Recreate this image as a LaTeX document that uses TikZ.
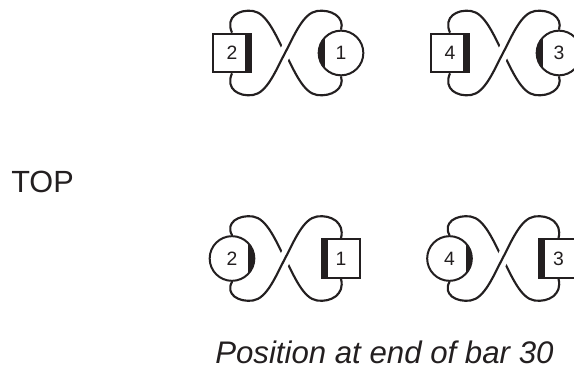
\documentclass[tikz,border=0pt]{standalone}
\usepackage{fontspec}
\setmainfont{Liberation Sans}
\pgfdeclarelayer{background}
\pgfsetlayers{background,main}
\definecolor{ink}{RGB}{35,31,32}

\begin{document}
\begin{tikzpicture}[x=0.75pt,y=0.75pt,yscale=-1,xscale=1,
  knot/.style={draw=ink,line width=1.6pt},
  over/.style={knot,preaction={draw=white,line width=9pt}},
  box/.style={draw=ink,fill=white,line width=1.5pt,minimum size=29pt,inner sep=0pt,text=ink,font=\fontsize{14.5}{16}\selectfont},
  ring/.style={box,circle,minimum size=33.5pt},
  bandR/.style={path picture={\fill[ink] ([xshift=-4.5pt]path picture bounding box.north east) rectangle (path picture bounding box.south east);}},
  bandL/.style={path picture={\fill[ink] (path picture bounding box.north west) rectangle ([xshift=4.5pt]path picture bounding box.south west);}}]
\useasboundingbox (0,0) rectangle (574,370);

%Top left
\begin{scope}[shift={(285,53)}]
\node [box,bandR] (s2) at (-53,0) {2};
\node [ring,bandL] (c1) at (56,0) {1};
\coordinate (x1) at (0,0);
\begin{pgfonlayer}{background}
\draw [knot] (s2.north) .. controls (-60,-36) and (-46,-44) .. (-32,-42) .. controls (-18,-40) and (-9,-17) .. (x1) .. controls (9,17) and (18,40) .. (32,42) .. controls (46,44) and (60,36) .. (c1.south);
\draw [over] (s2.south) .. controls (-60,36) and (-46,44) .. (-32,42) .. controls (-18,40) and (-9,17) .. (x1) .. controls (9,-17) and (18,-40) .. (32,-42) .. controls (46,-44) and (60,-36) .. (c1.north);
\end{pgfonlayer}
\end{scope}

%Top right
\begin{scope}[shift={(503,53)}]
\node [box,bandR] (s4) at (-53,0) {4};
\node [ring,bandL] (c3) at (56,0) {3};
\coordinate (x2) at (0,0);
\begin{pgfonlayer}{background}
\draw [knot] (s4.north) .. controls (-60,-36) and (-46,-44) .. (-32,-42) .. controls (-18,-40) and (-9,-17) .. (x2) .. controls (9,17) and (18,40) .. (32,42) .. controls (46,44) and (60,36) .. (c3.south);
\draw [over] (s4.south) .. controls (-60,36) and (-46,44) .. (-32,42) .. controls (-18,40) and (-9,17) .. (x2) .. controls (9,-17) and (18,-40) .. (32,-42) .. controls (46,-44) and (60,-36) .. (c3.north);
\end{pgfonlayer}
\end{scope}

%Bottom left
\begin{scope}[shift={(285,258.5)}]
\node [ring,bandR] (c2) at (-53,0) {2};
\node [box,bandL] (s1) at (56,0) {1};
\coordinate (x3) at (0,0);
\begin{pgfonlayer}{background}
\draw [knot] (c2.north) .. controls (-60,-36) and (-46,-44) .. (-32,-42) .. controls (-18,-40) and (-9,-17) .. (x3) .. controls (9,17) and (18,40) .. (32,42) .. controls (46,44) and (60,36) .. (s1.south);
\draw [over] (c2.south) .. controls (-60,36) and (-46,44) .. (-32,42) .. controls (-18,40) and (-9,17) .. (x3) .. controls (9,-17) and (18,-40) .. (32,-42) .. controls (46,-44) and (60,-36) .. (s1.north);
\end{pgfonlayer}
\end{scope}

%Bottom right
\begin{scope}[shift={(502.5,258.5)}]
\node [ring,bandR] (c4) at (-53,0) {4};
\node [box,bandL] (s3) at (56,0) {3};
\coordinate (x4) at (0,0);
\begin{pgfonlayer}{background}
\draw [knot] (c4.north) .. controls (-60,-36) and (-46,-44) .. (-32,-42) .. controls (-18,-40) and (-9,-17) .. (x4) .. controls (9,17) and (18,40) .. (32,42) .. controls (46,44) and (60,36) .. (s3.south);
\draw [over] (c4.south) .. controls (-60,36) and (-46,44) .. (-32,42) .. controls (-18,40) and (-9,17) .. (x4) .. controls (9,-17) and (18,-40) .. (32,-42) .. controls (46,-44) and (60,-36) .. (s3.north);
\end{pgfonlayer}
\end{scope}

% Text Node
\node [anchor=base west,inner sep=0pt,text=ink,font=\fontsize{23}{27}\selectfont] (toplabel) at (11,192.3) {TOP};
% Text Node
\node [anchor=base west,inner sep=0pt,text=ink,font=\fontsize{23.4}{28}\selectfont\itshape] (caption) at (215,363.3) {Position at end of bar 30};
\end{tikzpicture}
\end{document}
